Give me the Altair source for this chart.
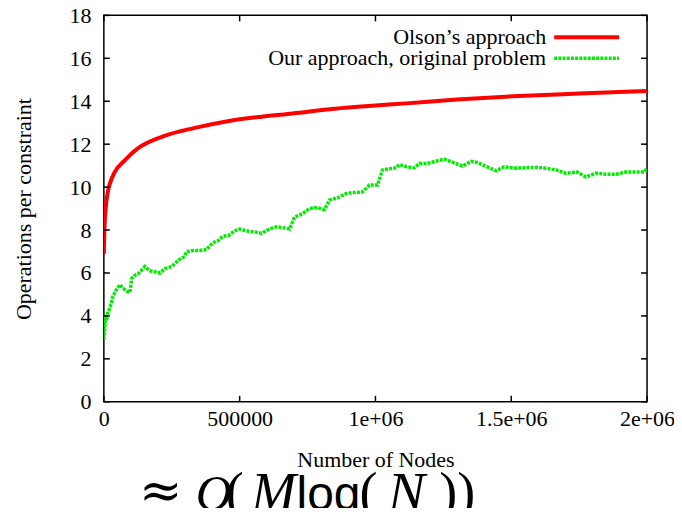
import altair as alt
import pandas as pd

# ---- data ----
olson_x = [0, 2000, 7000, 15000, 22000, 40000, 77000, 125000, 213000, 335000,
           456000, 581000, 695000, 850000, 1000000, 1113000, 1300000, 1504000,
           1750000, 2000000]
olson_y = [6.9, 8.0, 9.05, 9.8, 10.15, 10.7, 11.25, 11.8, 12.34, 12.76,
           13.07, 13.28, 13.43, 13.65, 13.8, 13.9, 14.08, 14.23, 14.36, 14.48]

ours_x = [0, 3000, 6000, 10000, 15000, 20000, 28000, 33000, 45000, 59000, 70000,
          85000, 96000, 103000, 115000, 130000, 151000, 170000, 190000, 206000,
          225000, 250000, 275000, 295000, 305000, 330000, 355000, 379000, 400000,
          420000, 437000, 460000, 480000, 500000, 530000, 560000, 581000, 610000,
          636000, 665000, 684000, 702000, 730000, 757000, 785000, 812000, 831000,
          860000, 893000, 920000, 952000, 978000, 1008000, 1026000, 1050000,
          1077000, 1088000, 1115000, 1143000, 1162000, 1190000, 1210000, 1235000,
          1254000, 1285000, 1320000, 1353000, 1375000, 1410000, 1445000, 1474000,
          1510000, 1550000, 1590000, 1630000, 1665000, 1700000, 1743000, 1775000,
          1812000, 1850000, 1886000, 1920000, 1970000, 1990000, 2000000]
ours_y = [2.9, 3.4, 4.0, 3.8, 4.2, 4.3, 4.6, 4.9, 5.2, 5.45, 5.3,
          5.15, 5.1, 5.75, 5.9, 6.0, 6.3, 6.1, 6.05, 6.0,
          6.2, 6.3, 6.6, 6.75, 7.0, 7.05, 7.05, 7.1, 7.4,
          7.5, 7.7, 7.75, 7.95, 8.05, 7.95, 7.9, 7.85, 8.05,
          8.15, 8.1, 8.05, 8.6, 8.75, 9.0, 9.05, 8.95, 9.4,
          9.5, 9.7, 9.75, 9.77, 10.1, 10.1, 10.8, 10.85,
          10.9, 11.05, 10.95, 10.9, 11.1, 11.1, 11.17, 11.25,
          11.3, 11.15, 10.98, 11.2, 11.15, 10.95, 10.76, 10.95,
          10.88, 10.9, 10.92, 10.88, 10.8, 10.65, 10.7, 10.47,
          10.65, 10.6, 10.6, 10.7, 10.7, 10.7, 10.9]

series_names = ["Olson\u2019s approach", "Our approach, original problem"]
series_colors = ["#ff0000", "#00ee00"]

x_ticks = [0, 500000, 1000000, 1500000, 2000000]
x_tick_labels = ["0", "500000", "1e+06", "1.5e+06", "2e+06"]
y_ticks = [0, 2, 4, 6, 8, 10, 12, 14, 16, 18]

x_title = "Number of Nodes"
y_title = "Operations per constraint"

# ---- layout ----
W, H = 544, 387
FONT = "Liberation Serif"
FS = 22
TICK = 6

xs = alt.Scale(domain=[0, 2000000], nice=False, zero=False)
ys = alt.Scale(domain=[0, 18], nice=False)

label_expr = " : ".join(
    f"datum.value == {v} ? '{t}'" for v, t in zip(x_ticks, x_tick_labels)
) + " : ''"

olson_df = pd.DataFrame({"x": olson_x, "y": olson_y})
ours_df = pd.DataFrame({"x": ours_x, "y": ours_y})

x_enc = alt.X("x:Q", scale=xs, title=x_title,
              axis=alt.Axis(values=x_ticks, labelExpr=label_expr, grid=False,
                            ticks=False, domain=False, labelPadding=7,
                            labelFont=FONT, labelFontSize=FS, labelColor="#000",
                            titleFont=FONT, titleFontSize=FS, titleFontWeight="normal",
                            titleColor="#000", titlePadding=20, labelFlush=False))
y_enc = alt.Y("y:Q", scale=ys, title=y_title,
              axis=alt.Axis(values=y_ticks, grid=False, ticks=False, domain=False,
                            labelPadding=13, labelFont=FONT, labelFontSize=FS,
                            labelColor="#000", titleFont=FONT, titleFontSize=FS,
                            titleFontWeight="normal", titleColor="#000",
                            titlePadding=33))

ours_line = alt.Chart(ours_df).mark_line(
    color=series_colors[1], strokeWidth=3.5, strokeDash=[3, 1.2], clip=True
).encode(x=x_enc, y=y_enc)

olson_line = alt.Chart(olson_df).mark_line(
    color=series_colors[0], strokeWidth=4, interpolate="monotone", clip=True
).encode(x=alt.X("x:Q", scale=xs), y=alt.Y("y:Q", scale=ys))

# inward tick marks on all four sides
xt = pd.DataFrame({"x": x_ticks})
yt = pd.DataFrame({"y": y_ticks})
tick_style = dict(color="#000", strokeWidth=1.5)
bottom_ticks = alt.Chart(xt).mark_rule(**tick_style).encode(
    x=alt.X("x:Q", scale=xs), y=alt.value(H), y2=alt.value(H - TICK))
top_ticks = alt.Chart(xt).mark_rule(**tick_style).encode(
    x=alt.X("x:Q", scale=xs), y=alt.value(0), y2=alt.value(TICK))
left_ticks = alt.Chart(yt).mark_rule(**tick_style).encode(
    y=alt.Y("y:Q", scale=ys), x=alt.value(0), x2=alt.value(TICK))
right_ticks = alt.Chart(yt).mark_rule(**tick_style).encode(
    y=alt.Y("y:Q", scale=ys), x=alt.value(W), x2=alt.value(W - TICK))

# legend (text left of sample line, gnuplot style)
one = pd.DataFrame({"k": [0]})
legend_layers = []
for i, (name, col) in enumerate(zip(series_names, series_colors)):
    yy = 22 + i * 21
    legend_layers.append(
        alt.Chart(one).mark_text(align="right", baseline="middle", font=FONT,
                                 fontSize=FS, color="#000", text=name)
        .encode(x=alt.value(443), y=alt.value(yy)))
    rule_kw = dict(color=col, strokeWidth=4 if i == 0 else 3.5)
    if i == 1:
        rule_kw["strokeDash"] = [3, 1.2]
    legend_layers.append(
        alt.Chart(one).mark_rule(**rule_kw)
        .encode(x=alt.value(451), x2=alt.value(516), y=alt.value(yy)))

# big formula below the chart: ≈ O(M log(N))
BASE = 495
formula_parts = [
    ("\u2248", 57, "DejaVu Serif", "normal", 52, BASE - 2),
    ("O", 110, "Liberation Serif", "italic", 50, BASE),
    ("(", 131, "Liberation Serif", "normal", 54, BASE),
    ("M", 170, "Liberation Serif", "italic", 54, BASE),
    ("log", 225, "Liberation Sans", "normal", 48, BASE),
    ("(", 265, "Liberation Serif", "normal", 54, BASE),
    ("N", 303, "Liberation Serif", "italic", 56, BASE),
    ("))", 354, "Liberation Serif", "normal", 54, BASE),
]
formula_layers = [
    alt.Chart(one).mark_text(align="center", baseline="alphabetic", font=f,
                             fontStyle=st, fontSize=fs, color="#000", text=t)
    .encode(x=alt.value(px), y=alt.value(by))
    for t, px, f, st, fs, by in formula_parts
]

chart = alt.layer(
    ours_line, olson_line, bottom_ticks, top_ticks, left_ticks, right_ticks,
    *legend_layers, *formula_layers
).properties(
    width=W, height=H,
    autosize=alt.AutoSizeParams(type="none"),
    padding={"left": 96, "top": 7, "right": 27, "bottom": 106},
).configure_view(stroke="#000", strokeWidth=1.5)

chart.save("out.html", embed_options={"renderer": "svg", "actions": False})
